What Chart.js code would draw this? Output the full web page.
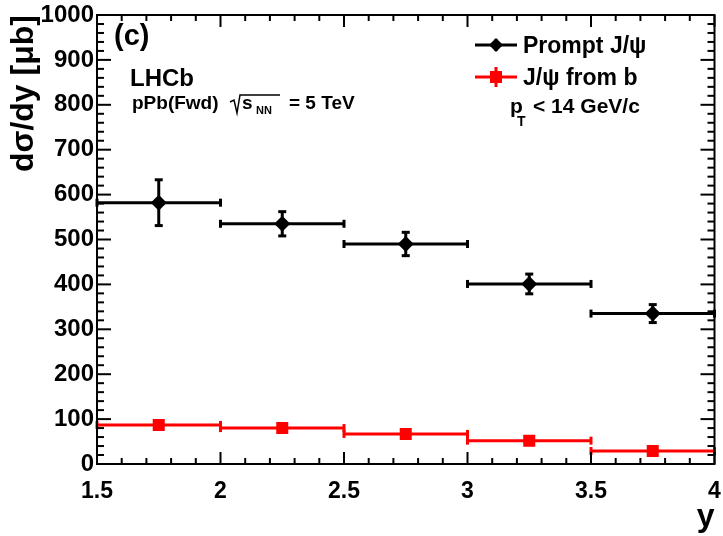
<!DOCTYPE html>
<html>
<head>
<meta charset="utf-8">
<script src="https://cdn.jsdelivr.net/npm/chart.js@4.4.0/dist/chart.umd.min.js"></script>
<style>
  html, body { margin: 0; padding: 0; background: #fff; }
  canvas { display: block; }
</style>
</head>
<body>
<canvas id="chart" width="723" height="536"></canvas>
<script>
// Rapidity bins
const binLow = [1.5, 2.0, 2.5, 3.0, 3.5];
const binHigh = [2.0, 2.5, 3.0, 3.5, 4.0];
const binCenter = [1.75, 2.25, 2.75, 3.25, 3.75];

// d sigma / dy [microbarn]
const promptVals = [582, 535, 490, 401, 335];
const promptErr = [51, 27, 26, 22, 20];
const fromBVals = [87, 80, 67, 52, 29];
const fromBErr = [5, 5, 5, 4, 4];

// Axis ticks
const xTicks = [1.5, 2, 2.5, 3, 3.5, 4];
const yTicks = [0, 100, 200, 300, 400, 500, 600, 700, 800, 900, 1000];

const FONT = '"Liberation Sans", Arial, Helvetica, sans-serif';
Chart.defaults.font.family = FONT;
Chart.defaults.color = '#000';

function line(ctx, x1, y1, x2, y2) {
    ctx.beginPath();
    ctx.moveTo(x1, y1);
    ctx.lineTo(x2, y2);
    ctx.stroke();
}

function drawErrors(ctx, x, y, vals, errs, color) {
    ctx.save();
    ctx.strokeStyle = color;
    ctx.lineWidth = 3;
    vals.forEach((v, i) => {
        const py = y.getPixelForValue(v);
        const x1 = x.getPixelForValue(binLow[i]);
        const x2 = x.getPixelForValue(binHigh[i]);
        const px = x.getPixelForValue(binCenter[i]);
        line(ctx, x1, py, x2, py);
        line(ctx, x1, py - 4, x1, py + 4);
        line(ctx, x2, py - 4, x2, py + 4);
        const yt = y.getPixelForValue(v + errs[i]);
        const yb = y.getPixelForValue(v - errs[i]);
        line(ctx, px, yt, px, yb);
        line(ctx, px - 4, yt, px + 4, yt);
        line(ctx, px - 4, yb, px + 4, yb);
    });
    ctx.restore();
}

const errorBars = {
    id: 'errorBars',
    beforeDatasetsDraw(chart) {
        const { ctx, scales: { x, y } } = chart;
        drawErrors(ctx, x, y, promptVals, promptErr, '#000');
        drawErrors(ctx, x, y, fromBVals, fromBErr, '#ff0000');
    }
};

// ROOT-style frame with inward ticks on all four sides
const frameTicks = {
    id: 'frameTicks',
    afterDraw(chart) {
        const { ctx, chartArea: a, scales: { x, y } } = chart;
        ctx.save();
        ctx.strokeStyle = '#000';
        ctx.lineWidth = 2;
        ctx.strokeRect(a.left, a.top, a.right - a.left, a.bottom - a.top);
        for (let k = 0; k <= 25; k++) {
            const px = x.getPixelForValue(1.5 + k * 0.1);
            const len = k % 5 === 0 ? 12 : 6;
            line(ctx, px, a.bottom, px, a.bottom - len);
            line(ctx, px, a.top, px, a.top + len);
        }
        for (let k = 0; k <= 50; k++) {
            const py = y.getPixelForValue(k * 20);
            const len = k % 5 === 0 ? 14 : 7;
            line(ctx, a.left, py, a.left + len, py);
            line(ctx, a.right, py, a.right - len, py);
        }
        ctx.restore();
    }
};

const annotations = {
    id: 'annotations',
    afterDraw(chart) {
        const { ctx } = chart;
        ctx.save();
        ctx.fillStyle = '#000';
        ctx.strokeStyle = '#000';
        ctx.textBaseline = 'alphabetic';

        ctx.font = 'bold 29px ' + FONT;
        ctx.fillText('(c)', 114, 45);
        ctx.font = 'bold 24px ' + FONT;
        ctx.fillText('LHCb', 130, 86);
        ctx.font = 'bold 19px ' + FONT;
        ctx.fillText('pPb(Fwd)', 132, 109);

        // sqrt(s_NN)
        ctx.lineWidth = 1.5;
        ctx.beginPath();
        ctx.moveTo(230, 102);
        ctx.lineTo(234, 100);
        ctx.lineTo(237, 113);
        ctx.lineTo(240, 95);
        ctx.lineTo(280, 95);
        ctx.stroke();
        ctx.fillText('s', 242, 109);
        ctx.font = 'bold 11px ' + FONT;
        ctx.fillText('NN', 256, 114);
        ctx.font = 'bold 19px ' + FONT;
        ctx.fillText('= 5 TeV', 289, 109);

        // legend
        const rows = [
            { label: 'Prompt J/\u03C8', color: '#000', y: 45, style: 'diamond', err: 6 },
            { label: 'J/\u03C8 from b', color: '#ff0000', y: 77, style: 'square', err: 10 }
        ];
        rows.forEach(r => {
            ctx.strokeStyle = r.color;
            ctx.fillStyle = r.color;
            ctx.lineWidth = 3;
            line(ctx, 475, r.y, 517, r.y);
            line(ctx, 496, r.y - r.err, 496, r.y + r.err);
            ctx.beginPath();
            if (r.style === 'diamond') {
                ctx.moveTo(496, r.y - 7); ctx.lineTo(503, r.y);
                ctx.lineTo(496, r.y + 7); ctx.lineTo(489, r.y);
                ctx.closePath();
            } else {
                ctx.rect(490, r.y - 6, 12, 12);
            }
            ctx.fill();
            ctx.fillStyle = '#000';
            ctx.font = 'bold 23px ' + FONT;
            ctx.fillText(r.label, 523, r.y + 8);
        });

        ctx.font = 'bold 21px ' + FONT;
        ctx.fillText('p', 510, 113);
        ctx.font = 'bold 14px ' + FONT;
        ctx.fillText('T', 517, 126);
        ctx.font = 'bold 21px ' + FONT;
        ctx.fillText('< 14 GeV/c', 533, 113);
        ctx.restore();
    }
};

new Chart(document.getElementById('chart'), {
    type: 'scatter',
    data: {
        datasets: [
            {
                label: 'Prompt J/\u03C8',
                data: binCenter.map((v, i) => ({ x: v, y: promptVals[i] })),
                pointStyle: 'rectRot',
                pointRadius: 8,
                backgroundColor: '#000',
                borderColor: '#000',
                borderWidth: 0
            },
            {
                label: 'J/\u03C8 from b',
                data: binCenter.map((v, i) => ({ x: v, y: fromBVals[i] })),
                pointStyle: 'rect',
                pointRadius: 8.5,
                backgroundColor: '#ff0000',
                borderColor: '#ff0000',
                borderWidth: 0
            }
        ]
    },
    options: {
        responsive: false,
        animation: false,
        layout: { padding: { top: 15, right: 5, left: 0, bottom: 0 } },
        plugins: { legend: { display: false }, tooltip: { enabled: false } },
        scales: {
            x: {
                type: 'linear',
                min: 1.5,
                max: 4,
                afterBuildTicks: s => { s.ticks = xTicks.map(v => ({ value: v })); },
                afterFit: s => { s.height = 72; s.paddingLeft = 0; s.paddingRight = 0; },
                grid: { display: false, drawTicks: false },
                border: { display: false },
                ticks: {
                    padding: 14,
                    maxRotation: 0,
                    font: { size: 23, weight: 'bold' },
                    callback: v => String(v)
                },
                title: {
                    display: true,
                    text: 'y',
                    align: 'end',
                    font: { size: 32, weight: 'bold' },
                    padding: { top: 0, bottom: 0 }
                }
            },
            y: {
                min: 0,
                max: 1000,
                afterBuildTicks: s => { s.ticks = yTicks.map(v => ({ value: v })); },
                afterFit: s => { s.width = 97; s.paddingTop = 0; s.paddingBottom = 0; },
                grid: { display: false, drawTicks: false },
                border: { display: false },
                ticks: {
                    padding: 3,
                    font: { size: 24, weight: 'bold' },
                    callback: v => String(v)
                },
                title: {
                    display: true,
                    text: 'd\u03C3/dy [\u03BCb]',
                    align: 'end',
                    font: { size: 32, weight: 'bold' },
                    padding: { top: 5, bottom: 0 }
                }
            }
        }
    },
    plugins: [errorBars, frameTicks, annotations]
});
</script>
</body>
</html>
